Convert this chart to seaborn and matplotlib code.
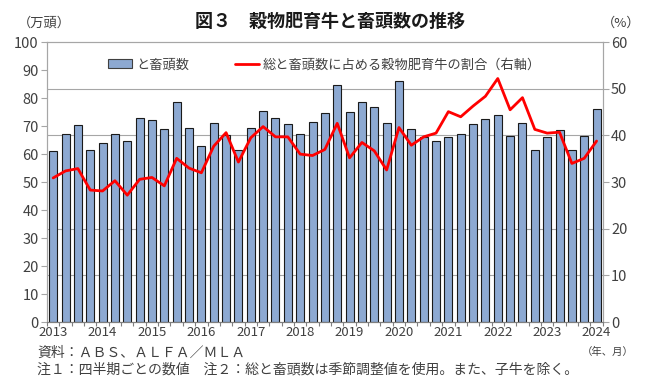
import numpy as np
import pandas as pd
import matplotlib
matplotlib.use('Agg')
import matplotlib.pyplot as plt
import seaborn as sns
from matplotlib.patches import Patch
from matplotlib.lines import Line2D

# データ（四半期、2013年1-3月期～2024年1-3月期）
anos = list(range(2013, 2025))
trimestres = [f'{a}Q{q}' for a in anos for q in range(1, 5)][:45]

# と畜頭数（万頭）
abate = [61.2, 67.1, 70.3, 61.6, 63.9, 67.1, 64.6, 72.8, 72.2, 68.9, 78.6, 69.5,
         63.0, 71.0, 66.8, 61.6, 69.5, 75.4, 72.8, 70.7, 67.1, 71.4, 74.6, 84.7,
         75.2, 78.7, 76.9, 71.0, 86.1, 69.1, 66.2, 64.8, 66.2, 67.1, 70.7, 72.5,
         73.9, 66.6, 71.0, 61.6, 66.0, 68.6, 61.6, 66.6, 76.1]

# 総と畜頭数に占める穀物肥育牛の割合（%）
parcela = [30.9, 32.4, 32.9, 28.3, 28.1, 30.3, 27.2, 30.6, 31.0, 29.2, 35.1, 33.0,
           32.0, 37.7, 40.6, 34.3, 39.5, 41.9, 39.7, 39.7, 36.0, 35.7, 37.0, 42.6,
           35.2, 38.5, 36.7, 32.6, 41.7, 37.9, 39.7, 40.5, 45.1, 44.0, 46.3, 48.4,
           52.2, 45.5, 48.1, 41.3, 40.5, 40.7, 34.0, 35.1, 38.8]

rotulos_anos = [str(a) for a in anos]

df = pd.DataFrame({'trimestre': trimestres, 'abate': abate, 'parcela': parcela})
df['pos'] = np.arange(len(df))

sns.set_style('ticks')
plt.rcParams['font.family'] = ['Noto Sans CJK JP', 'DejaVu Sans']

cor_barra = '#8DA9D2'
cor_linha = '#FF0000'
cor_texto = '#404040'
cor_grade = '#A6A6A6'

fig = plt.figure(figsize=(6.5, 3.83), dpi=100)
ax = fig.add_axes([0.0723, 0.159, 0.855, 0.731])

sns.barplot(data=df, x='trimestre', y='abate', ax=ax, color=cor_barra,
            width=0.65, edgecolor='#1A1A1A', linewidth=0.8, saturation=1, zorder=2)

ax.set_xlim(-0.5, len(df) - 0.5)
ax.set_ylim(0, 100)
ax.set_yticks(np.arange(0, 101, 10))
ax.set_xticks(np.arange(0, len(df), 4))
ax.set_xticklabels(rotulos_anos)
ax.set_xticks(np.arange(-0.5, len(df), 1), minor=True)
ax.set_xlabel('')
ax.set_ylabel('')

# linhas de grade do eixo direito (10%, 20%, ...)
ax.set_yticks(np.arange(1, 6) * 100 / 6, minor=True)
ax.grid(axis='y', which='minor', color=cor_grade, linewidth=0.8, zorder=0)
ax.tick_params(axis='y', which='minor', length=0)
ax.tick_params(axis='y', which='major', length=4, color=cor_grade,
               labelsize=10.5, labelcolor=cor_texto, pad=2)
ax.tick_params(axis='x', which='major', length=0, labelsize=9.5,
               labelcolor=cor_texto, pad=3)
ax.tick_params(axis='x', which='minor', length=3, width=0.8, color='#7F7F7F',
               bottom=True, direction='out')

ax2 = ax.twinx()
sns.lineplot(data=df, x='pos', y='parcela', ax=ax2, color=cor_linha, linewidth=2)
ax2.set_ylim(0, 60)
ax2.set_yticks(np.arange(0, 61, 10))
ax2.set_ylabel('')
ax2.tick_params(axis='y', length=4, color=cor_grade, labelsize=10.5,
                labelcolor=cor_texto, pad=2)

for a in (ax, ax2):
    for lado in ['top', 'left', 'right']:
        a.spines[lado].set_color(cor_grade)
        a.spines[lado].set_linewidth(0.8)
    a.spines['bottom'].set_color('#7F7F7F')

# legenda
handles = [Patch(facecolor=cor_barra, edgecolor='#404040', linewidth=0.8),
           Line2D([0], [0], color=cor_linha, linewidth=2)]
labels = ['と畜頭数', '総と畜頭数に占める穀物肥育牛の割合（右軸）']
ax2.legend(handles, labels, loc='upper center', bbox_to_anchor=(0.5, 0.985),
           ncol=2, frameon=False, fontsize=9.5, columnspacing=3.5,
           handlelength=1.8, handletextpad=0.3, labelcolor=cor_texto)

fig.text(0.508, 0.945, '図３　穀物肥育牛と畜頭数の推移', ha='center', va='center',
         fontsize=13, fontweight='bold', color='#1A1A1A')
fig.text(0.068, 0.94, '（万頭）', ha='center', va='center', fontsize=9.5, color=cor_texto)
fig.text(0.955, 0.94, '（%）', ha='center', va='center', fontsize=9.5, color=cor_texto)
fig.text(0.057, 0.080, '資料：ＡＢＳ、ＡＬＦＡ／ＭＬＡ', ha='left', va='center',
         fontsize=10, color=cor_texto)
fig.text(0.975, 0.080, '（年、月）', ha='right', va='center', fontsize=7.5, color=cor_texto)
fig.text(0.057, 0.035, '注１：四半期ごとの数値　注２：総と畜頭数は季節調整値を使用。また、子牛を除く。',
         ha='left', va='center', fontsize=10, color=cor_texto)

fig.savefig('out.png', dpi=100)
plt.close(fig)
